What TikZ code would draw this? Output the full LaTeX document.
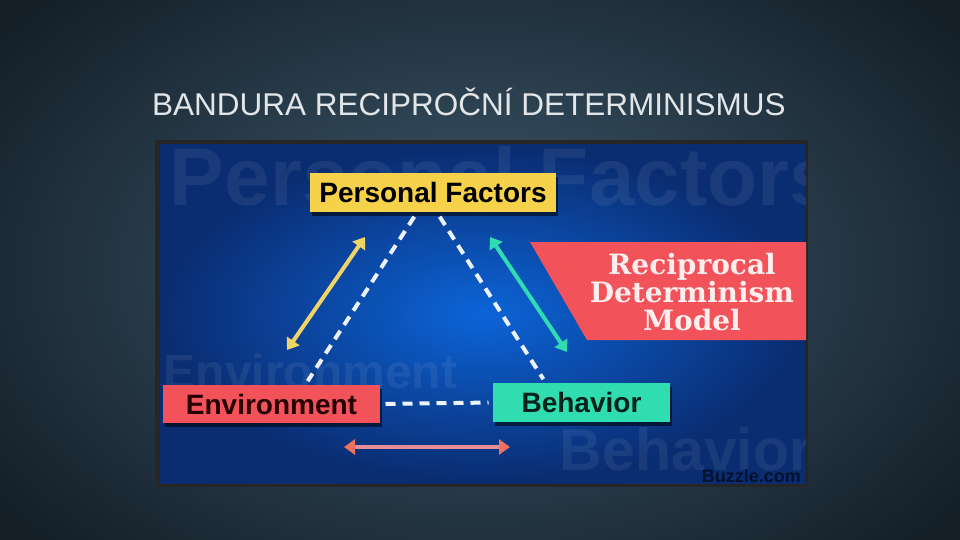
\documentclass[tikz,border=0pt]{standalone}
\usepackage{fontspec}
\setmainfont{Liberation Sans}
\newfontfamily\slabfont{DejaVu Serif}
\usetikzlibrary{arrows.meta, positioning, shadows}
\definecolor{cslate}{HTML}{3E5A6E}
\definecolor{cslatedark}{HTML}{141F28}
\definecolor{cblue}{HTML}{0C64D8}
\definecolor{cnavy}{HTML}{0A2C70}
\definecolor{cyellow}{HTML}{F6D24A}
\definecolor{ccoral}{HTML}{F2525A}
\definecolor{cteal}{HTML}{2FDDB0}
\definecolor{cpink}{HTML}{E48C98}
\definecolor{csalmon}{HTML}{F0705E}
\definecolor{cgold}{HTML}{EFD468}
\tikzset{
  every picture/.style={line width=1pt},
  box/.style={fill=#1, inner sep=0pt, font=\fontsize{28}{30}\selectfont\bfseries,
    drop shadow={shadow xshift=2pt, shadow yshift=-4pt, fill=black, opacity=0.55}},
  dashline/.style={draw=white!92!cblue, line width=4pt, dash pattern=on 10pt off 7pt, shorten <=5pt, shorten >=4pt},
  dblarrow/.style={{Triangle[width=15pt,length=11pt]}-{Triangle[width=15pt,length=11pt]}, draw=#1, line width=4pt},
  mark/.style={anchor=base west, text=white, text opacity=0.07, font=\fontsize{#1}{#1}\selectfont\bfseries},
  title/.style={anchor=base, text=white!85!cslate, font=\fontsize{31.5}{32}\selectfont},
}
\begin{document}
\begin{tikzpicture}[x=1pt, y=-1pt]
  \useasboundingbox (0,0) rectangle (960,540);
  \shade[inner color=cslate, outer color=cslatedark] (-120,-120) rectangle (1080,660);
  \node[title] (title) at (469,116) {BANDURA RECIPROČNÍ DETERMINISMUS};
  % picture frame
  \fill[black!85] (155,140) rectangle (808,487);
  \shade[inner color=cblue, outer color=cnavy] (160,145) rectangle (805,483);
  \begin{scope}
    \clip (160,145) rectangle (805,483);
    \node[mark=82] (markP) at (166,205) {Personal Factors};
    \node[mark=48] (markE) at (160,388) {Environment};
    \node[mark=59] (markB) at (556,470) {Behavior};
    \node[mark=18, text=black!75!cnavy, text opacity=0.8] (buzzle) at (698,482) {Buzzle.com};
  \end{scope}
  % model label
  \fill[ccoral] (530,242) -- (806,242) -- (806,340) -- (587,340) -- cycle;
  \node[align=center, text=white!90!ccoral, font=\slabfont\bfseries\fontsize{28}{28}\selectfont] (model) at (692,292) {Reciprocal\\Determinism\\Model};
  % the three factors
  \node[box=cyellow, minimum width=246pt, minimum height=39pt] (personal) at (433,192.5) {Personal Factors};
  \node[box=ccoral, minimum width=217pt, minimum height=38pt, text=black!85!red] (environment) at (271.5,404) {Environment};
  \node[box=cteal, minimum width=177pt, minimum height=39pt, text=black!85!cteal] (behavior) at (581.5,402.5) {Behavior};
  \draw[dashline] ([xshift=-16pt]personal.south) -- ([xshift=34pt]environment.north);
  \draw[dashline] ([xshift=4pt]personal.south) -- ([xshift=-36pt]behavior.north);
  \draw[dashline] (environment.east) -- (behavior.west);
  % influence arrows
  \coordinate (envUp) at (287,350);
  \coordinate (perLeft) at (365,237);
  \coordinate (perRight) at (490,237);
  \coordinate (behUp) at (567,352);
  \coordinate (envRight) at (344,447);
  \coordinate (behLeft) at (510,447);
  \draw[dblarrow=cgold] (envUp) -- (perLeft);
  \draw[dblarrow=cteal] (perRight) -- (behUp);
  \draw[{Triangle[width=15pt,length=11pt,color=csalmon]}-{Triangle[width=15pt,length=11pt,color=csalmon]}, draw=cpink, line width=4pt] (envRight) -- (behLeft);
\end{tikzpicture}
\end{document}
